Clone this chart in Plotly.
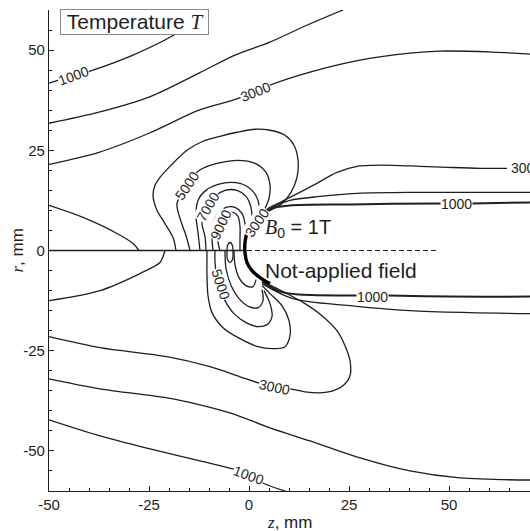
import plotly.graph_objects as go

# ---- isotherms of the temperature field T (z, r in mm) ----
# upper half: B0 = 1 T
t1000_a_z = [-50, -48, -44, -39.75, -29, -18, -12.25]
t1000_a_r = [41.75, 42.4, 43.5, 44.75, 48.75, 54.25, 59]

t2000_a_z = [-50, -37.5, -25, -12.5, -3.5, 5.25, 14, 23.5]
t2000_a_r = [31.75, 34.5, 38.25, 44.25, 48.75, 52, 56, 60]

t3000_a_z = [-50, -37.5, -25, -12.5, -4, 1.5, 5.25, 15.25, 27.75, 40.25, 47.75, 61, 70.25]
t3000_a_r = [21.5, 24.5, 29.25, 35, 37.5, 39.5, 41.25, 44.5, 47.5, 49.25, 49.75, 49.5, 49]

tup_left_z = [-50, -41.5, -33, -29, -27.5]
tup_left_r = [11.25, 8.25, 4.25, 1.75, 0]

t4000_u_z = [-18.25, -19, -21.5, -23, -24, -23.5, -22.25, -19.75, -15.5, -11.5, -7.25, -3,
             1.5, 5.25, 9, 11.25, 12.25, 12, 10.5, 8.25, 5.75, 3.75]
t4000_u_r = [0, 3.25, 7.5, 10, 13.75, 16.25, 18.25, 21, 25, 27.25, 28.5, 29.5,
             30.25, 30, 28.75, 26.25, 22.5, 18.25, 14.5, 11.75, 10.25, 9.25]

t5000_u_z = [-14.75, -15.75, -17.25, -18, -15.5, -12.75, -9.75, -3, 1.5, 4.25, 5.25, 5, 4]
t5000_u_r = [0, 3.75, 8, 11.75, 16, 19.75, 21.25, 22.5, 21.75, 19.5, 16.25, 13, 10.5]

t6000_u_z = [-12.25, -12.75, -13.25, -12.75, -10.75, -6.75, -2.25, 0.75, 2.25, 2.5, 2]
t6000_u_r = [0, 4.5, 8.75, 12.5, 15, 16.75, 16.75, 15, 12.5, 10, 8.25]

t7000_u_z = [-10.75, -11, -11.75, -10.25, -8.5, -6, -3, -0.75, 0.5, 0.75, 0.25]
t7000_u_r = [0, 3.5, 7, 10.75, 13.5, 15, 15, 13.5, 10.75, 7.5, 5]

t8000_u_z = [-9, -9.25, -9, -7.75, -5.75, -3.5, -1.75, -1, -0.75]
t8000_u_r = [0, 3.25, 6.5, 9.25, 10.75, 10.75, 9.25, 6.75, 4.5]

t9000_u_z = [-7.25, -7.75, -7, -5.5, -4, -2.75, -2.25, -2.25, -2.25]
t9000_u_r = [0, 2.5, 6.25, 9, 9.5, 8.5, 6, 3, 0]

t10000_z = [-4.75, -4.125, -4, -4.125, -4.75, -5.375, -5.5, -5.375, -4.75]
t10000_r = [2, 1.25, -0.5, -2.25, -3, -2.25, -0.5, 1.25, 2]

t3000_b_z = [-1.25, -1, 0, 1.75, 3.5, 4.75, 7.25, 10.25, 16.5, 22, 27, 31, 36, 42.75, 49.5, 57.75, 64.5]
t3000_b_r = [0, 2.5, 4.5, 7, 9.25, 10.5, 11.75, 13.25, 16.5, 19.5, 21, 21.25, 21.25, 21, 20.75, 20.5, 20.5]

t2000_b_z = [3.75, 5.75, 10.25, 17.75, 27, 42.75, 70.25]
t2000_b_r = [9.25, 10.75, 12.5, 13.5, 14.25, 14.5, 14.5]

t1000_b_z = [3.75, 5.75, 10.25, 25.25, 47.75, 55.75, 70.25]
t1000_b_r = [9, 10.5, 11.25, 11.5, 11.75, 11.75, 12]

# cathode tip region where the isotherms crowd together
tip_z = [-0.5, -1, -1, -0.5, 0.75, 2.75, 5.25]
tip_r = [4.5, 2, -0.5, -3, -5, -6.75, -8.25]

# lower half: no applied field
tlow_left_z = [-21, -21.5, -22.25, -27.25, -37.25, -50]
tlow_left_r = [0, -1.5, -3, -5.75, -10, -12.5]

t1000_c_z = [3.25, 7.75, 12.75, 27, 34.75, 50.25, 70.25]
t1000_c_r = [-7.75, -10.25, -11, -11.25, -11.25, -11.5, -11.5]

t2000_c_z = [3.25, 11, 25.25, 40.25, 55.25, 70.25]
t2000_c_r = [-8.25, -12, -13.75, -15, -15.5, -15.75]

t3000_c_z = [-50, -37.25, -20.5, -9.75, -2.25, 2.25, 6.25, 10.25, 14, 17.75, 21, 23.5,
             25.25, 25.25, 24, 22, 18.25, 14, 9, 4]
t3000_c_r = [-21.5, -24.25, -26.5, -29, -31.5, -33, -34, -34.5, -35.25, -35.5, -35, -33.75,
             -31.25, -27.5, -23.75, -20, -16.25, -13.25, -10.5, -8]

t2000_d_z = [-50, -37.25, -20.5, -12.25, -4, 5.25, 15.25, 27.75, 40.25, 52.75, 70.25]
t2000_d_r = [-32, -34.5, -36.75, -38.5, -40.75, -44.25, -47.5, -51.75, -55, -56.75, -57.25]

t1000_d_z = [-50, -37.25, -24.75, -12.25, -4, -0.25, 4, 9.75]
t1000_d_r = [-42.25, -46.25, -49.5, -52.5, -54.5, -56, -58.25, -60.25]

t4000_l_z = [-10.5, -10.5, -10.25, -9.25, -6.5, -2.25, 2.25, 5.75, 9, 10.25, 10, 8.25, 5.25, 3.25]
t4000_l_r = [0, -6.25, -11.25, -15.5, -19.25, -22, -24, -24.5, -24, -21.25, -17.5, -13.75, -10.75, -8.75]

t5000_l_z = [-8.5, -8.5, -7.75, -6, -3.75, -0.75, 2.25, 4.5, 5.75, 5.25, 3.75]
t5000_l_r = [0, -3, -8.25, -12.5, -15.75, -18, -19, -18.5, -16.5, -13.25, -10]

t6000_l_z = [-6, -5.75, -4.5, -2.5, 0, 2.25, 3.5, 3.25]
t6000_l_r = [0, -4.5, -8.75, -12, -14, -14.25, -12.5, -9.75]

t7000_l_z = [-3.75, -3.5, -2.5, -0.75, 1, 1.75]
t7000_l_r = [0, -3.5, -6.75, -8.75, -9, -7.25]

# symmetry axis (solid) and the boundary between the two cases (dashed)
axis_z = [-50, -1]
axis_r = [0, 0]
divider_z = [-0.5, 47.25]
divider_r = [0, 0]

# contour labels
label_text = ["1000", "3000", "5000", "7000", "9000", "3000", "3000", "1000",
              "1000", "5000", "3000", "1000"]
label_z = [-44, 1.5, -15.5, -10.25, -7, 2, 65.25, 51.75, 30.75, -7, 6.25, -0.25]
label_r = [43.5, 39.5, 16, 10.75, 6.25, 6.75, 20.5, 11.5, -11.5, -8.25, -34, -56]
label_angle = [-20, -22, -55, -60, -65, -55, 0, 0, 0, 72, 12, 20]
label_anchor = ["center"] * 6 + ["left"] + ["center"] * 5

# tick labels
z_ticks = [-50, -25, 0, 25, 50]
r_ticks = [-50, -25, 0, 25, 50]

INK = "#1e1e1e"
SANS = "Liberation Sans, Arial, sans-serif"
SERIF = "Liberation Serif"

thin_curves = [
    (t1000_a_z, t1000_a_r), (t2000_a_z, t2000_a_r), (t3000_a_z, t3000_a_r),
    (tup_left_z, tup_left_r), (t4000_u_z, t4000_u_r), (t5000_u_z, t5000_u_r),
    (t6000_u_z, t6000_u_r), (t7000_u_z, t7000_u_r), (t8000_u_z, t8000_u_r),
    (t9000_u_z, t9000_u_r), (t10000_z, t10000_r), (t3000_b_z, t3000_b_r),
    (t2000_b_z, t2000_b_r), (tlow_left_z, tlow_left_r), (t2000_c_z, t2000_c_r),
    (t3000_c_z, t3000_c_r), (t2000_d_z, t2000_d_r), (t1000_d_z, t1000_d_r),
    (t4000_l_z, t4000_l_r), (t5000_l_z, t5000_l_r), (t6000_l_z, t6000_l_r),
    (t7000_l_z, t7000_l_r), (axis_z, axis_r),
]
double_curves = [(t1000_b_z, t1000_b_r), (t1000_c_z, t1000_c_r)]

fig = go.Figure()
for zs, rs in thin_curves:
    fig.add_trace(go.Scatter(x=zs, y=rs, mode="lines",
                             line=dict(color=INK, width=1.3, shape="spline", smoothing=0.9),
                             hoverinfo="skip", showlegend=False))
for zs, rs in double_curves:
    fig.add_trace(go.Scatter(x=zs, y=rs, mode="lines",
                             line=dict(color=INK, width=2.0, shape="spline", smoothing=0.9),
                             hoverinfo="skip", showlegend=False))
fig.add_trace(go.Scatter(x=tip_z, y=tip_r, mode="lines",
                         line=dict(color="#000", width=3.4, shape="spline", smoothing=1),
                         hoverinfo="skip", showlegend=False))
fig.add_trace(go.Scatter(x=divider_z, y=divider_r, mode="lines",
                         line=dict(color=INK, width=1.2, dash="5px,3px"),
                         hoverinfo="skip", showlegend=False))

annotations = []
for txt, zz, rr, ang, anc in zip(label_text, label_z, label_r, label_angle, label_anchor):
    annotations.append(dict(x=zz, y=rr, xref="x", yref="y", text=txt, showarrow=False,
                            textangle=ang, xanchor=anc, yanchor="middle",
                            font=dict(family=SANS, size=14, color=INK),
                            bgcolor="white", borderpad=0))

annotations += [
    dict(x=0.0229, y=1.002, xref="paper", yref="paper", xanchor="left", yanchor="top",
         text=f'&nbsp;Temperature <span style="font-family:{SERIF}"><i>T</i></span>&nbsp;',
         showarrow=False, font=dict(family=SANS, size=21, color=INK),
         bgcolor="white", bordercolor="#8a8a8a", borderwidth=1, borderpad=0),
    dict(x=3.5, y=5.6, xref="x", yref="y", xanchor="left", yanchor="middle",
         text=f'<span style="font-family:{SERIF}"><i>B</i></span><sub>0</sub> = 1T',
         showarrow=False, font=dict(family=SANS, size=20, color=INK)),
    dict(x=3.5, y=-5, xref="x", yref="y", xanchor="left", yanchor="middle",
         text="Not-applied field", showarrow=False,
         font=dict(family=SANS, size=21, color=INK)),
    dict(x=-0.0665, y=0.5, xref="paper", yref="paper", xanchor="center", yanchor="middle",
         text=f'<span style="font-family:{SERIF}"><i>r</i></span>, mm', textangle=-90,
         showarrow=False, font=dict(family=SANS, size=17, color=INK)),
    dict(x=0.5, y=-0.0665, xref="paper", yref="paper", xanchor="center", yanchor="middle",
         text=f'<span style="font-family:{SERIF}"><i>z</i></span>, mm',
         showarrow=False, font=dict(family=SANS, size=17, color=INK)),
]

axis_style = dict(showgrid=False, zeroline=False, showline=True, linecolor=INK, linewidth=1.3,
                  ticks="inside", ticklen=5, tickwidth=1.2, tickcolor=INK,
                  tickfont=dict(family=SANS, size=15, color=INK),
                  minor=dict(ticks="inside", ticklen=3, tickwidth=1, tickcolor=INK, dtick=5),
                  mirror=False)

fig.update_layout(
    width=530, height=531,
    margin=dict(l=49, r=0, t=10, b=40),
    paper_bgcolor="white", plot_bgcolor="white",
    xaxis=dict(range=[-50, 70.25], tickvals=z_ticks, ticktext=[str(v) for v in z_ticks],
               **axis_style),
    yaxis=dict(range=[-60, 60], tickvals=r_ticks, ticktext=[str(v) for v in r_ticks],
               **axis_style),
    annotations=annotations,
)

fig.write_html("out.html")
